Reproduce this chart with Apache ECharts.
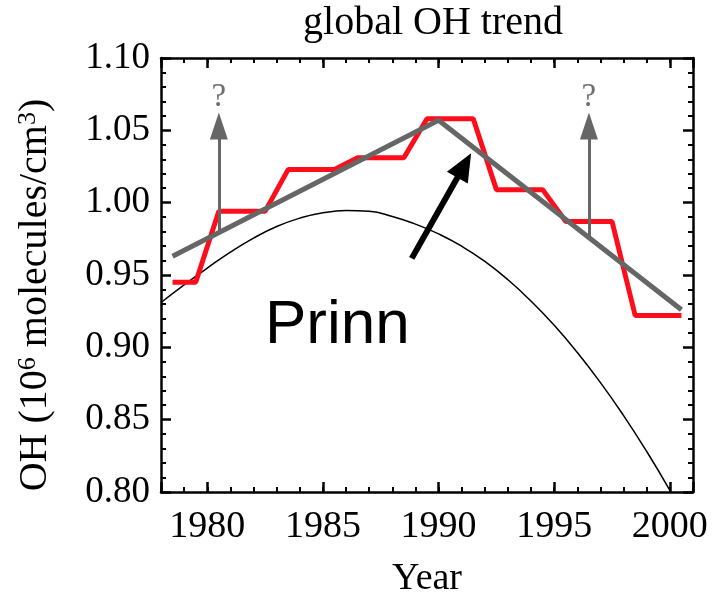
<!DOCTYPE html>
<html>
<head>
<meta charset="utf-8">
<title>global OH trend</title>
<script src="https://cdn.jsdelivr.net/npm/echarts@6/dist/echarts.min.js"></script>
<style>
  html, body { margin: 0; padding: 0; background: #ffffff; }
  #chart { width: 722px; height: 597px; }
</style>
</head>
<body>
<div id="chart"></div>
<script>
// Model OH curve (thin black line), yearly values
const curveYears = [1978, 1979, 1980, 1981, 1982, 1983, 1984, 1985, 1986, 1987, 1988,
                    1989, 1990, 1991, 1992, 1993, 1994, 1995, 1996, 1997, 1998, 1999, 2000];
const curveOH = [0.9310, 0.9432, 0.9548, 0.9658, 0.9755, 0.9835, 0.9893, 0.9930, 0.9945, 0.9940, 0.9905,
                 0.9852, 0.9784, 0.9699, 0.9594, 0.9467, 0.9319, 0.9152, 0.8964, 0.8756, 0.8528, 0.8280, 0.8012];

// Prinn OH estimates (red, three-year blocks)
const prinnYears = [1978.5, 1979.5, 1980.5, 1981.5, 1982.5, 1983.5, 1984.5, 1985.5, 1986.5, 1987.5,
                    1988.5, 1989.5, 1990.5, 1991.5, 1992.5, 1993.5, 1994.5, 1995.5, 1996.5, 1997.5,
                    1998.5, 1999.5, 2000.5];
const prinnOH = [0.945, 0.945, 0.994, 0.994, 0.994, 1.023, 1.023, 1.023, 1.031, 1.031,
                 1.031, 1.058, 1.058, 1.058, 1.009, 1.009, 1.009, 0.987, 0.987, 0.987,
                 0.922, 0.922, 0.922];

// Piecewise linear trend (grey)
const trendYears = [1978.5, 1990, 2000.5];
const trendOH = [0.963, 1.057, 0.926];

// Upward "?" arrows rising from the trend line
const queryYears = [1980.5, 1996.5];
const queryBase = [0.979, 0.976];
const queryHead = 1.053;
const queryMark = 1.0725;

// Arrow pointing at the Prinn series
const pointerFrom = [1988.84, 0.9615];
const pointerTo = [1991.11, 1.0257];

// Axis ticks
const yTicks = { min: 0.80, max: 1.10, step: 0.05 };
const xRange = { min: 1978, max: 2001 };

const pair = (xs, ys) => xs.map((x, i) => [x, ys[i]]);

const serif = 'Liberation Serif';
const frame = { show: true, lineStyle: { color: '#000', width: 2.5 } };

const majorX = (pos, labels) => ({
  type: 'value', position: pos, min: xRange.min, max: xRange.max,
  axisLine: frame,
  axisTick: { show: true, inside: true, length: 10, lineStyle: { color: '#000', width: 2.5 } },
  axisLabel: {
    show: labels, margin: 16, color: '#000', fontFamily: serif, fontSize: 38,
    formatter: v => (v % 5 === 0 ? String(v) : '')
  },
  splitLine: { show: false },
  name: labels ? 'Year' : '', nameLocation: 'middle', nameGap: 68,
  nameTextStyle: { color: '#000', fontFamily: serif, fontSize: 38 }
});
const minorX = pos => ({
  type: 'value', position: pos, min: xRange.min, max: xRange.max, interval: 1,
  axisLine: { show: false },
  axisTick: { show: true, inside: true, length: 5, lineStyle: { color: '#000', width: 2 } },
  axisLabel: { show: false }, splitLine: { show: false }
});
const yAxisOf = (pos, labels) => ({
  type: 'value', position: pos, min: yTicks.min, max: yTicks.max, interval: yTicks.step,
  axisLine: frame,
  axisTick: { show: true, inside: true, length: 10, lineStyle: { color: '#000', width: 2.5 } },
  minorTick: { show: true, splitNumber: 5, length: 5, lineStyle: { color: '#000', width: 2 } },
  axisLabel: {
    show: labels, margin: 11, color: '#000', fontFamily: serif, fontSize: 37,
    formatter: v => v.toFixed(2)
  },
  splitLine: { show: false }, minorSplitLine: { show: false }
});

const chart = echarts.init(document.getElementById('chart'), null, { renderer: 'canvas' });
chart.setOption({
  animation: false,
  backgroundColor: '#ffffff',
  title: {
    text: 'global OH trend', left: 428, top: -2, textAlign: 'center',
    textStyle: { color: '#000', fontFamily: serif, fontSize: 40, fontWeight: 'normal' }
  },
  grid: { left: 161, top: 58, right: 29, bottom: 105, outerBoundsMode: 'none', containLabel: false },
  xAxis: [majorX('bottom', true), majorX('top', false), minorX('bottom'), minorX('top')],
  yAxis: [yAxisOf('left', true), yAxisOf('right', false)],
  graphic: [
    {
      type: 'text', x: 35, y: 295, rotation: Math.PI / 2,
      style: {
        text: 'OH (10{sup|6} molecules/cm{sup|3})',
        fontFamily: serif, fontSize: 40, fill: '#000',
        align: 'center', verticalAlign: 'middle',
        rich: { sup: { fontFamily: serif, fontSize: 26, verticalAlign: 'top', fill: '#000' } }
      }
    },
    {
      type: 'text', x: 265, y: 326,
      style: {
        text: 'Prinn', fontFamily: 'Liberation Sans', fontSize: 62, fill: '#000',
        align: 'left', verticalAlign: 'middle'
      }
    }
  ],
  series: [
    {
      name: 'model', type: 'line', smooth: 0.5, showSymbol: false, silent: true,
      data: pair(curveYears, curveOH),
      lineStyle: { color: '#000', width: 1.5 },
      z: 2,
      markLine: {
        silent: true, symbol: ['none', 'triangle'], symbolSize: [24, 28],
        lineStyle: { color: '#000', width: 6, type: 'solid' },
        label: { show: false },
        data: [[{ coord: pointerFrom }, { coord: pointerTo }]]
      }
    },
    {
      name: 'Prinn', type: 'line', showSymbol: false, silent: true,
      data: pair(prinnYears, prinnOH),
      lineStyle: { color: '#ff0d1a', width: 5 },
      z: 3
    },
    {
      name: 'trend', type: 'line', showSymbol: false, silent: true,
      data: pair(trendYears, trendOH),
      lineStyle: { color: '#666666', width: 5 },
      z: 4,
      markLine: {
        silent: true, symbol: ['none', 'triangle'], symbolSize: [18, 27],
        lineStyle: { color: '#666666', width: 3, type: 'solid' },
        label: { show: false },
        data: queryYears.map((x, i) => [{ coord: [x, queryBase[i]] }, { coord: [x, queryHead] }])
      }
    },
    {
      name: 'query', type: 'scatter', silent: true, symbolSize: 1,
      data: queryYears.map(x => [x, queryMark]),
      itemStyle: { color: 'rgba(0,0,0,0)' },
      label: {
        show: true, position: 'inside', formatter: '?',
        fontFamily: serif, fontSize: 33, color: '#4a4a4a'
      },
      z: 5
    }
  ]
});
</script>
</body>
</html>
